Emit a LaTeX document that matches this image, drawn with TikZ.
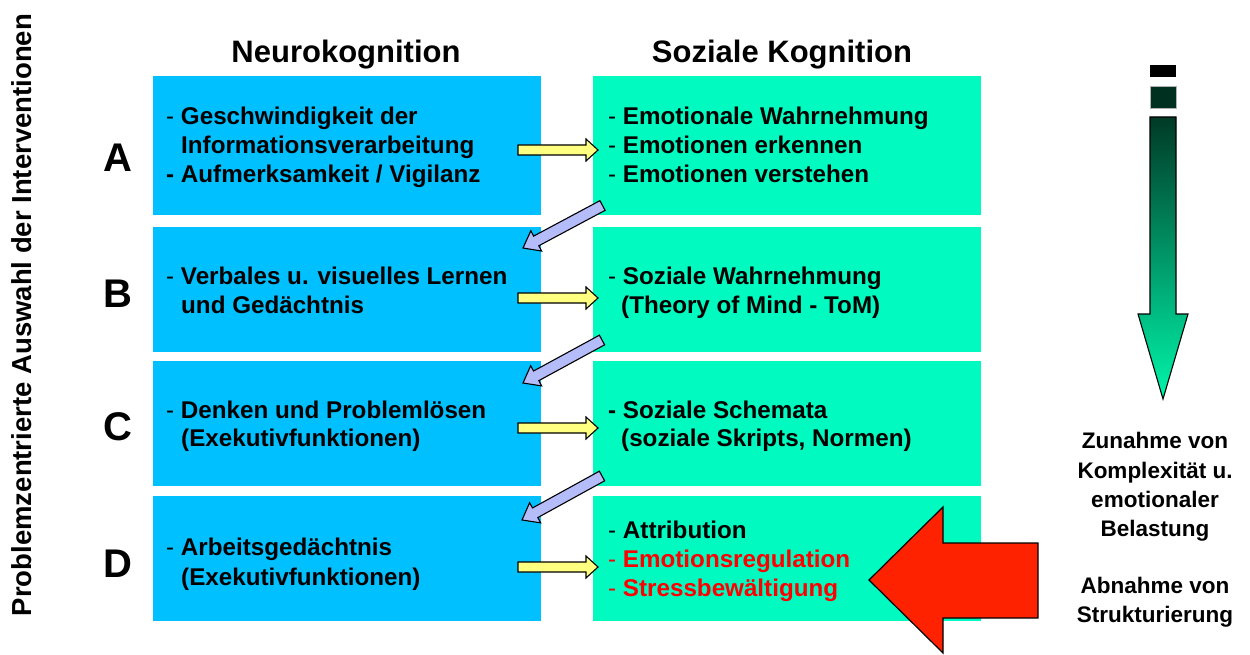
\documentclass[tikz,border=0pt]{standalone}
\usepackage{fontspec}
\setmainfont{Liberation Sans}
\usetikzlibrary{calc}
\definecolor{bluebox}{RGB}{0,192,255}
\definecolor{greenbox}{RGB}{0,250,192}
\definecolor{yel}{RGB}{255,255,128}
\definecolor{lil}{RGB}{180,188,250}
\definecolor{redarr}{RGB}{255,34,0}
\definecolor{redtxt}{RGB}{255,0,0}
\definecolor{gtop}{RGB}{0,58,38}
\definecolor{gbot}{RGB}{0,245,170}
\newcommand\rd{{\mdseries -} }
\newcommand\bd{- }
\newcommand\blockarr[6]{%
  \draw[#1] ($(#2)!#4!90:(#3)$) -- ($(#3)!#6!(#2)!#4!-90:(#2)$) -- ($(#3)!#6!(#2)!#5!-90:(#2)$) -- (#3)
   -- ($(#3)!#6!(#2)!#5!90:(#2)$) -- ($(#3)!#6!(#2)!#4!90:(#2)$) -- ($(#2)!#4!-90:(#3)$) -- cycle;}
\begin{document}
\begin{tikzpicture}[x=1pt,y=-1pt,
  nbox/.style={fill=bluebox, draw=none, anchor=north west, minimum width=388pt, inner sep=0},
  sbox/.style={fill=greenbox, draw=none, anchor=north west, minimum width=388pt, inner sep=0},
  txt/.style={anchor=base west, inner sep=0, font=\fontsize{24.2}{29}\selectfont\bfseries},
  head/.style={anchor=base, inner sep=0, font=\fontsize{31}{36}\selectfont\bfseries},
  letter/.style={anchor=base, inner sep=0, font=\fontsize{40}{44}\selectfont\bfseries},
  side/.style={anchor=base, inner sep=0, font=\fontsize{22.5}{28}\selectfont\bfseries},
  vtitle/.style={rotate=90, anchor=base, inner sep=0, font=\fontsize{27.5}{30}\selectfont},
  yarrow/.style={fill=yel, draw=black, line width=1.1pt, line join=miter},
  larrow/.style={fill=lil, draw=black, line width=1.1pt, line join=miter}]
\useasboundingbox (0,0) rectangle (1250,655);
% boxes
\node[nbox, minimum height=139pt] (nA) at (153,76) {};
\node[nbox, minimum height=125pt] (nB) at (153,227) {};
\node[nbox, minimum height=125pt] (nC) at (153,361) {};
\node[nbox, minimum height=125pt] (nD) at (153,496) {};
\node[sbox, minimum height=139pt] (sA) at (593,76) {};
\node[sbox, minimum height=125pt] (sB) at (593,227) {};
\node[sbox, minimum height=125pt] (sC) at (593,361) {};
\node[sbox, minimum height=125pt] (sD) at (593,496) {};
% headings
\node[head] (h1) at (346,63) {Neurokognition};
\node[head] (h2) at (782,63) {Soziale Kognition};
% letters
\node[letter] (lA) at (118,172) {A};
\node[letter] (lB) at (118,307) {B};
\node[letter] (lC) at (118,440) {C};
\node[letter] (lD) at (118,577) {D};
% texts left
\node[txt] (tA1) at (166,125) {\rd Geschwindigkeit der};
\node[txt] (tA2) at (181,154) {Informationsverarbeitung};
\node[txt] (tA3) at (166,183) {\bd Aufmerksamkeit / Vigilanz};
\node[txt] (tB1) at (166,284) {\rd Verbales u. visuelles Lernen};
\node[txt] (tB2) at (181,313) {und Gedächtnis};
\node[txt] (tC1) at (166,418) {\rd Denken und Problemlösen};
\node[txt] (tC2) at (181,446) {(Exekutivfunktionen)};
\node[txt] (tD1) at (166,555) {\rd Arbeitsgedächtnis};
\node[txt] (tD2) at (181,585) {(Exekutivfunktionen)};
% texts right
\node[txt] (uA1) at (608,125) {\rd Emotionale Wahrnehmung};
\node[txt] (uA2) at (608,154) {\rd Emotionen erkennen};
\node[txt] (uA3) at (608,183) {\rd Emotionen verstehen};
\node[txt] (uB1) at (608,284) {\rd Soziale Wahrnehmung};
\node[txt] (uB2) at (621,313) {(Theory of Mind - ToM)};
\node[txt] (uC1) at (608,418) {\bd Soziale Schemata};
\node[txt] (uC2) at (621,446) {(soziale Skripts, Normen)};
\node[txt] (uD1) at (608,538) {\rd Attribution};
\node[txt, text=redtxt] (uD2) at (608,567) {\rd Emotionsregulation};
\node[txt, text=redtxt] (uD3) at (608,596) {\rd Stressbewältigung};
% yellow arrows
\coordinate (ya1) at (518,150); \coordinate (yb1) at (598,150);
\coordinate (ya2) at (518,298); \coordinate (yb2) at (598,298);
\coordinate (ya3) at (518,428); \coordinate (yb3) at (598,428);
\coordinate (ya4) at (518,567); \coordinate (yb4) at (598,567);
\blockarr{yarrow}{ya1}{yb1}{5pt}{11pt}{12pt}
\blockarr{yarrow}{ya2}{yb2}{5pt}{11pt}{12pt}
\blockarr{yarrow}{ya3}{yb3}{5pt}{11pt}{12pt}
\blockarr{yarrow}{ya4}{yb4}{5pt}{11pt}{12pt}
% lilac arrows
\coordinate (la1) at (602.5,205.5); \coordinate (lb1) at (523,248);
\coordinate (la2) at (602,340); \coordinate (lb2) at (523,383);
\coordinate (la3) at (602,476); \coordinate (lb3) at (522,520);
\blockarr{larrow}{la1}{lb1}{5.5pt}{11.5pt}{15pt}
\blockarr{larrow}{la2}{lb2}{5.5pt}{11.5pt}{15pt}
\blockarr{larrow}{la3}{lb3}{5.5pt}{11.5pt}{15pt}
% red arrow
\draw[fill=redarr, draw=black, line width=1.2pt, line join=miter]
  (1038,543) -- (943,543) -- (943,507) -- (869,580) -- (943,653) -- (943,618) -- (1038,618) -- cycle;
% green gradient arrow
\fill[black] (1150,65) rectangle (1176,77);
\draw[fill=gtop!85!black, draw=gray!60, line width=0.6pt] (1150,86) rectangle (1176,108);
\shade[top color=gtop, bottom color=gbot]
  (1150,117) -- (1176,117) -- (1176,314) -- (1188,314) -- (1163,399) -- (1138,314) -- (1150,314) -- cycle;
\draw[black, line width=1.1pt, line join=miter]
  (1150,117) -- (1176,117) -- (1176,314) -- (1188,314) -- (1163,399) -- (1138,314) -- (1150,314) -- cycle;
% side text
\node[side] (r1) at (1155,448) {Zunahme von};
\node[side] (r2) at (1155,478) {Komplexität u.};
\node[side] (r3) at (1155,507) {emotionaler};
\node[side] (r4) at (1155,536) {Belastung};
\node[side] (r5) at (1155,593) {Abnahme von};
\node[side] (r6) at (1155,622) {Strukturierung};
% vertical title
\node[vtitle] (vt) at (31,315) {\textbf{Problemzentrierte Auswahl der Interventionen}};
\end{tikzpicture}
\end{document}
